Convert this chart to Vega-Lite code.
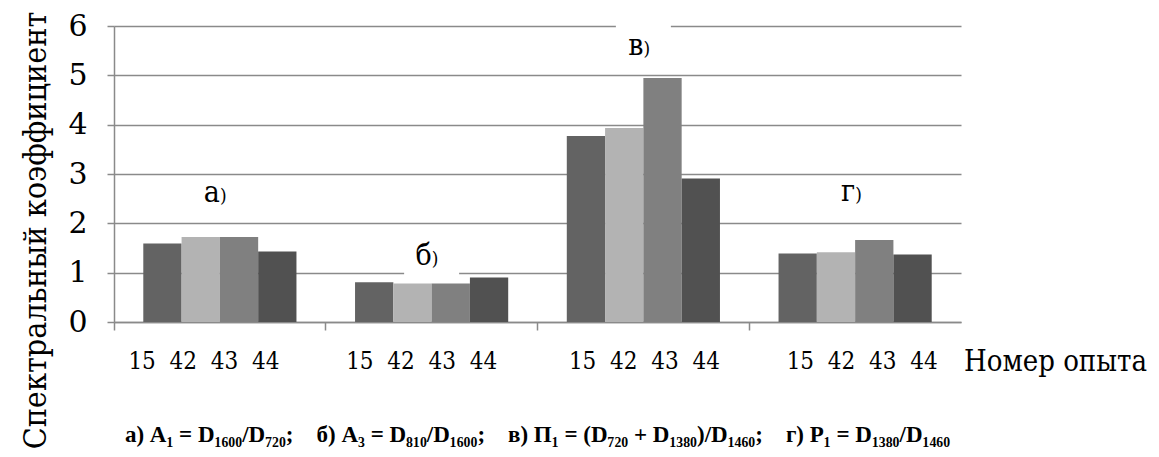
{
  "$schema": "https://vega.github.io/schema/vega-lite/v6.json",
  "autosize": {"type": "none"},
  "padding": {"left": 114, "top": 26, "right": 198, "bottom": 135},
  "width": 847,
  "height": 296,
  "background": "white",
  "config": {
    "view": {"stroke": null}
  },
  "title": {
    "text": "а) A₁ = D₁₆₀₀/D₇₂₀;\u00a0\u00a0\u00a0 б) A₃ = D₈₁₀/D₁₆₀₀;\u00a0\u00a0\u00a0 в) П₁ = (D₇₂₀ + D₁₃₈₀)/D₁₄₆₀;\u00a0\u00a0\u00a0 г) P₁ = D₁₃₈₀/D₁₄₆₀",
    "orient": "bottom",
    "anchor": "middle",
    "font": "Liberation Serif",
    "fontSize": 23,
    "fontWeight": "bold",
    "color": "black",
    "offset": -25
  },
  "datasets": {
    "bars": [
      {"group": "а", "exp": "15", "value": 1.59},
      {"group": "а", "exp": "42", "value": 1.725},
      {"group": "а", "exp": "43", "value": 1.725},
      {"group": "а", "exp": "44", "value": 1.43},
      {"group": "б", "exp": "15", "value": 0.805},
      {"group": "б", "exp": "42", "value": 0.78},
      {"group": "б", "exp": "43", "value": 0.78},
      {"group": "б", "exp": "44", "value": 0.9},
      {"group": "в", "exp": "15", "value": 3.77},
      {"group": "в", "exp": "42", "value": 3.93},
      {"group": "в", "exp": "43", "value": 4.945},
      {"group": "в", "exp": "44", "value": 2.91},
      {"group": "г", "exp": "15", "value": 1.39},
      {"group": "г", "exp": "42", "value": 1.415},
      {"group": "г", "exp": "43", "value": 1.66},
      {"group": "г", "exp": "44", "value": 1.37}
    ],
    "labels": [
      {"group": "а", "letter": "а", "v": 2.43},
      {"group": "б", "letter": "б", "v": 1.15},
      {"group": "в", "letter": "в", "v": 5.41},
      {"group": "г", "letter": "г", "v": 2.45}
    ],
    "boxes": [
      {"group": "б", "lo": 0.95, "hi": 1.05},
      {"group": "в", "lo": 5.95, "hi": 6.05}
    ]
  },
  "encoding": {
    "x": {
      "field": "group",
      "type": "nominal",
      "sort": ["а", "б", "в", "г"],
      "scale": {"paddingInner": 0, "paddingOuter": 0},
      "axis": {
        "bandPosition": 0,
        "labelExpr": "'15\u00a0\u00a042\u00a0\u00a043\u00a0\u00a044'",
        "labelAngle": 0,
        "labelAlign": "center",
        "labelBaseline": "middle",
        "labelFont": "DejaVu Serif Condensed",
        "labelFontWeight": "normal",
        "labelFontSize": 24,
        "labelColor": "black",
        "labelPadding": 31,
        "labelOffset": {"condition": [
          {"test": "datum.value === 'б'", "value": -10},
          {"test": "datum.value === 'в'", "value": 1},
          {"test": "datum.value === 'г'", "value": 7}
        ], "value": -16},
        "tickSize": 8,
        "tickColor": "#8a8a8a",
        "tickWidth": 1.5,
        "domainColor": "#8a8a8a",
        "domainWidth": 1.5,
        "grid": false,
        "title": "Номер опыта",
        "titleFont": "DejaVu Serif Condensed",
        "titleFontSize": 29,
        "titleFontWeight": "normal",
        "titleColor": "black",
        "titleX": 941,
        "titleY": 39,
        "titleAlign": "center",
        "titleBaseline": "middle"
      }
    }
  },
  "layer": [
    {
      "data": {"name": "bars"},
      "mark": {"type": "bar"},
      "encoding": {
        "xOffset": {"field": "exp", "type": "nominal", "scale": {"paddingInner": 0, "paddingOuter": 0.765}},
        "y": {
          "field": "value",
          "type": "quantitative",
          "scale": {"domain": [0, 6], "nice": false},
          "axis": {
            "values": [0, 1, 2, 3, 4, 5, 6],
            "grid": true,
            "gridColor": "#8a8a8a",
            "gridWidth": 1.5,
            "domainColor": "#8a8a8a",
            "domainWidth": 1.5,
            "tickColor": "#8a8a8a",
            "tickWidth": 1.5,
            "tickSize": 7,
            "labelFont": "DejaVu Serif",
            "labelFontSize": 30,
            "labelColor": "black",
            "labelPadding": 20,
            "title": "Спектральный коэффициент",
            "titleFont": "DejaVu Serif Condensed",
            "titleFontSize": 32,
            "titleFontWeight": "normal",
            "titleColor": "black",
            "titleAngle": 270,
            "titleX": -79,
            "titleY": 204,
            "titleAlign": "center",
            "titleBaseline": "middle"
          }
        },
        "color": {
          "field": "exp",
          "type": "nominal",
          "scale": {"domain": ["15", "42", "43", "44"], "range": ["#636363", "#b3b3b3", "#808080", "#515151"]},
          "legend": null
        }
      }
    },
    {
      "data": {"name": "boxes"},
      "mark": {"type": "bar", "color": "white", "width": 55},
      "encoding": {
        "y": {"field": "lo", "type": "quantitative"},
        "y2": {"field": "hi"}
      }
    },
    {
      "data": {"name": "labels"},
      "mark": {"type": "text", "align": "right", "baseline": "alphabetic", "fontSize": 30, "color": "black", "font": "DejaVu Serif Condensed"},
      "encoding": {
        "y": {"field": "v", "type": "quantitative"},
        "text": {"field": "letter"}
      }
    },
    {
      "data": {"name": "labels"},
      "mark": {"type": "text", "align": "left", "baseline": "alphabetic", "fontSize": 19, "color": "black", "font": "DejaVu Serif Condensed"},
      "encoding": {
        "y": {"field": "v", "type": "quantitative"},
        "text": {"value": ")"}
      }
    }
  ]
}
